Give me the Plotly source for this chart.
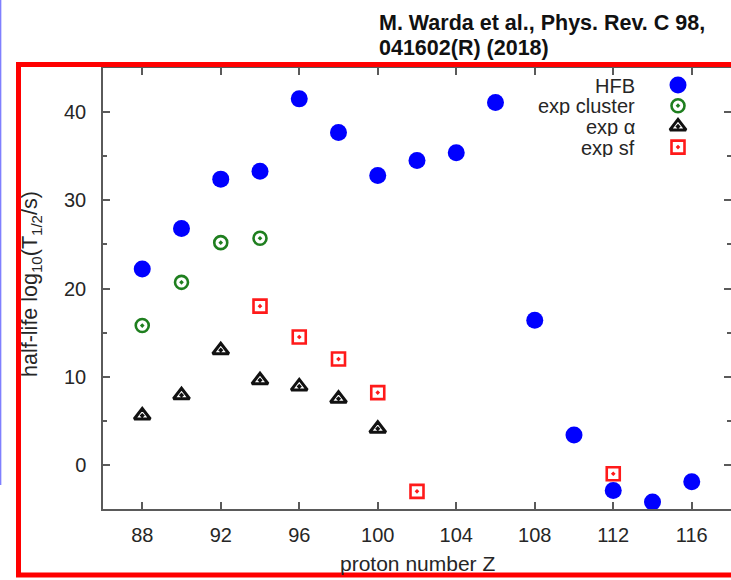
import plotly.graph_objects as go

# Proton numbers and half-lives, log10(T1/2 / s)
z_hfb = [88, 90, 92, 94, 96, 98, 100, 102, 104, 106, 108, 110, 112, 114, 116]
t_hfb = [22.2, 26.8, 32.4, 33.3, 41.5, 37.7, 32.8, 34.5, 35.4, 41.1, 16.4, 3.4, -2.9, -4.2, -1.9]

z_cluster = [88, 90, 92, 94]
t_cluster = [15.8, 20.7, 25.2, 25.7]

z_alpha = [88, 90, 92, 94, 96, 98, 100]
t_alpha = [5.6, 7.9, 13.0, 9.6, 8.9, 7.5, 4.1]

z_sf = [94, 96, 98, 100, 102, 112]
t_sf = [18.0, 14.5, 12.0, 8.2, -3.0, -1.0]

x_ticks = [88, 92, 96, 100, 104, 108, 112, 116]
y_ticks = [0, 10, 20, 30, 40]

legend_names = ["HFB", "exp cluster", "exp α", "exp sf"]

W, H = 731, 580
ML, MR, MT, MB = 103, 0, 68, 71
PW, PH = W - ML - MR, H - MT - MB

FONT = "Liberation Sans, Arial, Helvetica, sans-serif"
AXC = "#5a5a5a"
TXT = "#262626"


def px(x):
    return (x - ML) / PW


def py(y):
    return (H - MB - y) / PH


styles = [
    dict(symbol="circle", size=17, color="#0000ff", line=dict(width=0)),
    dict(symbol="circle-open-dot", size=13, color="#1f7f1f", line=dict(width=2.6, color="#1f7f1f")),
    dict(symbol="triangle-up-open-dot", size=14, color="#111111", line=dict(width=3, color="#111111")),
    dict(symbol="square-open-dot", size=13, color="#ff1a1a", line=dict(width=2.6, color="#ff1a1a")),
]

fig = go.Figure()
series = [(z_hfb, t_hfb), (z_cluster, t_cluster), (z_alpha, t_alpha), (z_sf, t_sf)]
for (xs, ys), name, st in zip(series, legend_names, styles):
    fig.add_trace(go.Scatter(x=xs, y=ys, mode="markers", name=name,
                             marker=st, showlegend=False, cliponaxis=False))

# right-hand tick axis (carries no data)
fig.add_trace(go.Scatter(x=[], y=[], yaxis="y2", showlegend=False, hoverinfo="skip"))

# key: text on the left, symbol on the right
row0, row_step = 85, 20.7
key_x = 678
key_text_x = 637
for i, (name, st) in enumerate(zip(legend_names, styles)):
    yy = py(row0 + i * row_step)
    fig.add_trace(go.Scatter(x=[px(key_x)], y=[yy], mode="markers", marker=st,
                             xaxis="x2", yaxis="y3", showlegend=False,
                             hoverinfo="skip", cliponaxis=False))
    fig.add_annotation(x=px(key_text_x), y=yy, xref="paper", yref="paper",
                       text=name, showarrow=False, xanchor="right", yanchor="middle",
                       height=19, font=dict(family=FONT, size=20, color=TXT))

axis_common = dict(showgrid=False, zeroline=False, ticks="inside", tickcolor=AXC,
                   tickwidth=1.5, ticklen=7,
                   tickfont=dict(family=FONT, size=20, color=TXT))

fig.update_layout(
    width=W, height=H,
    margin=dict(l=ML, r=MR, t=MT, b=MB, autoexpand=False),
    paper_bgcolor="white", plot_bgcolor="white",
    xaxis=dict(range=[86, 118], tickvals=x_ticks, showline=True, linecolor=AXC,
               linewidth=1.5, mirror="ticks", ticklabelstandoff=7, **axis_common),
    yaxis=dict(range=[-5, 45], tickvals=y_ticks, showline=True, linecolor=AXC,
               linewidth=1.5, mirror=False, ticklabelstandoff=11,
               minor=dict(dtick=5, tick0=0, ticks="inside", ticklen=4,
                          tickcolor=AXC, tickwidth=1.5),
               **axis_common),
    yaxis2=dict(range=[-5, 45], overlaying="y", side="right", anchor="x",
                tickvals=y_ticks, showticklabels=False, showline=False,
                minor=dict(dtick=5, tick0=0, ticks="inside", ticklen=4,
                           tickcolor=AXC, tickwidth=1.5),
                **axis_common),
    xaxis2=dict(range=[0, 1], overlaying="x", visible=False),
    yaxis3=dict(range=[0, 1], overlaying="y", visible=False),
    showlegend=False,
)

# axis titles
fig.add_annotation(x=px(417.5), y=py(563), xref="paper", yref="paper",
                   text="proton number Z", showarrow=False,
                   xanchor="center", yanchor="middle",
                   font=dict(family=FONT, size=21, color=TXT))
fig.add_annotation(x=px(31), y=py(284), xref="paper", yref="paper",
                   text="half-life log<sub>10</sub>(T<sub>1/2</sub>/s)", showarrow=False,
                   textangle=-90, xanchor="center", yanchor="middle",
                   font=dict(family=FONT, size=21.5, color=TXT))

# citation
fig.add_annotation(x=px(377), y=py(23), xref="paper", yref="paper",
                   text="<b>M. Warda et al., Phys. Rev. C 98,</b>", showarrow=False,
                   xanchor="left", yanchor="middle",
                   font=dict(family=FONT, size=21.5, color="#111111"))
fig.add_annotation(x=px(377), y=py(48), xref="paper", yref="paper",
                   text="<b>041602(R) (2018)</b>", showarrow=False,
                   xanchor="left", yanchor="middle",
                   font=dict(family=FONT, size=21.5, color="#111111"))

# red frame around the panel
fig.add_shape(type="rect", xref="paper", yref="paper",
              x0=px(18.5), x1=px(745), y0=py(575), y1=py(64.5),
              line=dict(color="#ff0000", width=5), fillcolor="rgba(0,0,0,0)", layer="above")
# thin blue rule at the far left
fig.add_shape(type="line", xref="paper", yref="paper",
              x0=px(0.6), x1=px(0.6), y0=py(0), y1=py(485),
              line=dict(color="#8080ff", width=1.5))

fig.write_html("out.html")
